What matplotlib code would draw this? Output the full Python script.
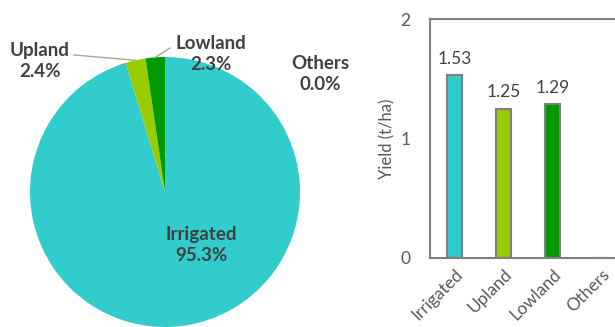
import matplotlib.pyplot as plt
import numpy as np

plt.rcParams['font.family'] = ['Lato', 'DejaVu Sans']

# share of area by ecosystem (%)
categories = ['Irrigated', 'Upland', 'Lowland', 'Others']
area_share = [95.3, 2.4, 2.3, 0.0]
# yield by ecosystem (t/ha)
yields = [1.53, 1.25, 1.29, 0.0]
colors = ['#33CCCC', '#99CC00', '#009900', '#4472C4']

W, H = 615, 327
fig = plt.figure(figsize=(W / 100, H / 100), dpi=100)

# --- pie of area share ---
cx, cy, r = 165, 192, 135
ax1 = fig.add_axes([(cx - r) / W, (H - cy - r) / H, 2 * r / W, 2 * r / H])
wedges, _ = ax1.pie(area_share, colors=colors, startangle=90, counterclock=False,
                    radius=1, wedgeprops=dict(linewidth=0))
ax1.set_xlim(-1, 1)
ax1.set_ylim(-1, 1)
ax1.set_aspect('equal')
ax1.axis('off')


def px(x, y):
    # pixel position -> pie data coordinates
    return (x - cx) / r, (cy - y) / r


lab_kw = dict(fontsize=13.5, fontweight='bold', color='#404040',
              ha='center', va='center', linespacing=1.3)
label_pos = {
    'Irrigated': (201, 245),
    'Upland': (40, 61),
    'Lowland': (211, 54),
    'Others': (320, 74),
}
for i, name in enumerate(categories):
    txt = f"{name}\n{area_share[i]:.1f}%"
    tx, ty = px(*label_pos[name])
    ax1.text(tx, ty, txt, **lab_kw)

# leader lines for the two thin slices
cum = np.cumsum([0] + area_share)
for i, (sx, sy) in [(1, (74, 55)), (2, (170, 48))]:
    mid = (cum[i] + cum[i + 1]) / 2 / 100
    ang = np.deg2rad(90 - 360 * mid)
    ex, ey = np.cos(ang), np.sin(ang)
    x0, y0 = px(sx, sy)
    ax1.plot([x0, ex], [y0, ey], color='#a6a6a6', lw=1, clip_on=False)

# --- bars of yield ---
left, right, top, bottom = 430, 626, 19, 258
ax2 = fig.add_axes([left / W, (H - bottom) / H, (right - left) / W, (bottom - top) / H])
x = np.arange(len(categories))
bars = ax2.bar(x, yields, width=0.31, color=colors, edgecolor='#7f7f7f', linewidth=1.5)
labels = [f"{v:.2f}" if v > 0 else "" for v in yields]
ax2.bar_label(bars, labels=labels, padding=6, fontsize=12.5, color='#404040')
ax2.set_xlim(-0.5, 3.5)
ax2.set_ylim(0, 2)
ax2.set_yticks([0, 1, 2])
ax2.set_xticks(x)
ax2.set_xticklabels(categories, rotation=45, ha='right', va='top', rotation_mode='anchor')
ax2.tick_params(axis='both', length=0, labelsize=12.5, labelcolor='#595959')
ax2.tick_params(axis='y', pad=14)
ax2.tick_params(axis='x', pad=6)
ax2.set_ylabel('Yield (t/ha)', fontsize=12, color='#595959', labelpad=4)
for s in ax2.spines.values():
    s.set_color('#7f7f7f')
    s.set_linewidth(1.5)

fig.savefig('out.png', dpi=100)
